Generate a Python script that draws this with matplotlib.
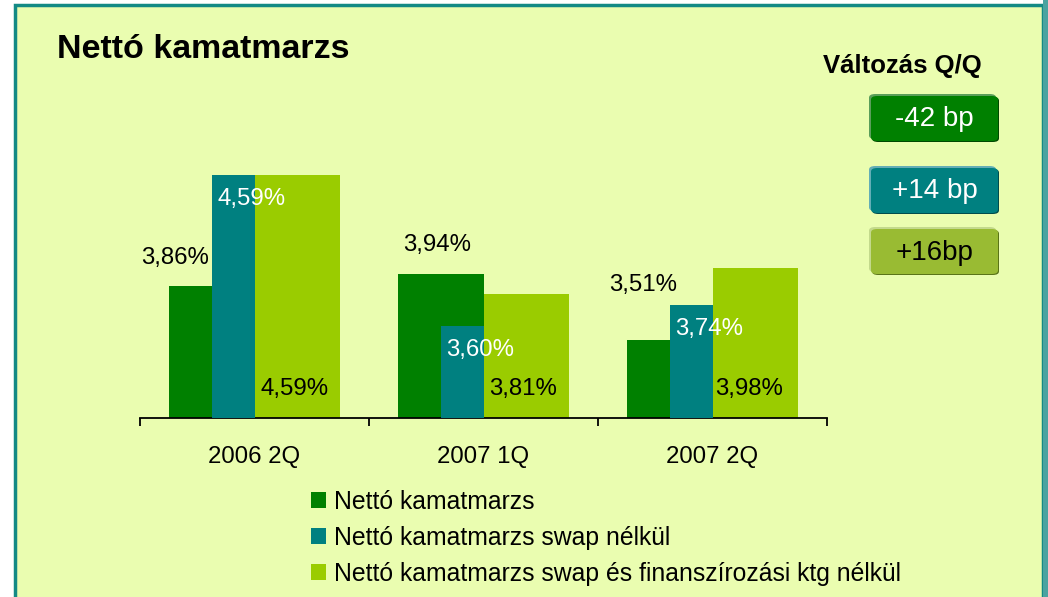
import matplotlib
matplotlib.use("Agg")
import matplotlib.pyplot as plt
from matplotlib.patches import Rectangle, FancyBboxPatch
import numpy as np

plt.rcParams['font.family'] = ['Liberation Sans', 'DejaVu Sans']

# ---- data ----
categories = ['2006 2Q', '2007 1Q', '2007 2Q']
series_names = ['Nettó kamatmarzs',
                'Nettó kamatmarzs swap nélkül',
                'Nettó kamatmarzs swap és finanszírozási ktg nélkül']
nim = [3.86, 3.94, 3.51]
nim_no_swap = [4.59, 3.60, 3.74]
nim_no_swap_fin = [4.59, 3.81, 3.98]
nim_labels = ['3,86%', '3,94%', '3,51%']
nim_no_swap_labels = ['4,59%', '3,60%', '3,74%']
nim_no_swap_fin_labels = ['4,59%', '3,81%', '3,98%']
changes = ['-42 bp', '+14 bp', '+16bp']
title = 'Nettó kamatmarzs'
change_title = 'Változás Q/Q'

# ---- style ----
W, H = 1048, 597
BG = '#EAFDB0'
C_GREEN = '#008000'
C_TEAL = '#008080'
C_LIGHT = '#9ACC00'
BORDER = '#138A85'

fig = plt.figure(figsize=(W / 100, H / 100), dpi=100)
fig.patch.set_facecolor('white')

def fx(x):
    return x / W

def fy(y):
    return 1 - y / H

# panel background with border
fig.patches.append(Rectangle((fx(15), fy(620)), fx(1043) - fx(15), fy(5) - fy(620),
                             transform=fig.transFigure, facecolor=BG,
                             edgecolor=BORDER, linewidth=2.5, zorder=0))
fig.patches.append(Rectangle((fx(1043), 0), fx(1048) - fx(1043), 1,
                             transform=fig.transFigure, facecolor='#4AA3A0',
                             edgecolor='none', zorder=0))

# ---- axes ----
ax = fig.add_axes([fx(140), fy(418), fx(827) - fx(140), fy(112) - fy(418)])
ax.set_zorder(5)
ax.set_facecolor('none')
x = np.arange(len(categories))
gw = 0.744
wide = gw / 2
ax.bar(x - wide / 2, [v - 3.0 for v in nim], width=wide, bottom=3.0,
       color=C_GREEN, label=series_names[0], zorder=2)
ax.bar(x - wide / 4, [v - 3.0 for v in nim_no_swap], width=wide / 2, bottom=3.0,
       color=C_TEAL, label=series_names[1], zorder=3)
ax.bar(x + wide / 2, [v - 3.0 for v in nim_no_swap_fin], width=wide, bottom=3.0,
       color=C_LIGHT, label=series_names[2], zorder=2)
ax.set_xlim(-0.5, len(categories) - 0.5)
ax.set_ylim(3.0, 5.0)

for s in ['top', 'left', 'right']:
    ax.spines[s].set_visible(False)
ax.spines['bottom'].set_linewidth(1.3)
ax.set_yticks([])
ax.set_xticks(x)
ax.set_xticklabels(categories, fontsize=17.3)
ax.tick_params(axis='x', which='major', length=0, pad=20)
ax.set_xticks(np.arange(len(categories) + 1) - 0.5, minor=True)
ax.tick_params(axis='x', which='minor', length=6, width=1.3, direction='out')

# value labels (pixel offsets from category centre / bar top)
green_off = [(-79, 28), (-46, 29), (-69, 55)]
for i, (v, t) in enumerate(zip(nim, nim_labels)):
    ax.annotate(t, xy=(x[i], v), xytext=green_off[i], textcoords='offset pixels',
                ha='center', va='center', fontsize=17.3, color='black', zorder=5)
for i, (v, t) in enumerate(zip(nim_no_swap, nim_no_swap_labels)):
    ax.annotate(t, xy=(x[i], v), xytext=(-3, -24), textcoords='offset pixels',
                ha='center', va='center', fontsize=17.3, color='white', zorder=5)
light_dx = [40, 40, 37]
for i, t in enumerate(nim_no_swap_fin_labels):
    ax.annotate(t, xy=(x[i], 3.0), xytext=(light_dx[i], 29), textcoords='offset pixels',
                ha='center', va='center', fontsize=17.3, color='black', zorder=5)

# ---- title ----
fig.text(fx(57), fy(50), title, fontsize=24.5, fontweight='bold', ha='left', va='center')
fig.text(fx(902), fy(66), change_title, fontsize=18.5, fontweight='bold', ha='center', va='center')

# ---- badges ----
badge_colors = [(C_GREEN, '#5A9E5A', '#004800', 'white'),
                (C_TEAL, '#63AEB6', '#004C4C', 'white'),
                ('#99BB33', '#C3D98C', '#5A7418', 'black')]
badge_y = [95, 167, 228]
bx0, bx1, bh = 870, 997, 45
for (c, lt, dk, tc), y0, txt in zip(badge_colors, badge_y, changes):
    def box(xo, yo, col, z):
        p = FancyBboxPatch((fx(bx0 + xo), fy(y0 + bh + yo)), fx(bx1) - fx(bx0), fy(y0) - fy(y0 + bh),
                           boxstyle='round,pad=0,rounding_size=0.006',
                           transform=fig.transFigure, facecolor=col, edgecolor='none', zorder=z)
        fig.patches.append(p)
    box(2, 2, dk, 1)
    box(-1, -1, lt, 2)
    box(1, 1, c, 3)
    fig.text(fx((bx0 + bx1) / 2 + 1), fy(y0 + bh / 2 + 2), txt, fontsize=20,
             color=tc, ha='center', va='center', zorder=4)

# ---- legend ----
handles, labels = ax.get_legend_handles_labels()
leg = fig.legend(handles, labels, loc='upper left', bbox_to_anchor=(fx(311), fy(490)),
                 frameon=False, fontsize=17.8, handlelength=0.6, handleheight=0.6,
                 handletextpad=0.35, labelspacing=0.48, borderpad=0, borderaxespad=0)

fig.savefig('out.png', dpi=100, facecolor=fig.get_facecolor())
